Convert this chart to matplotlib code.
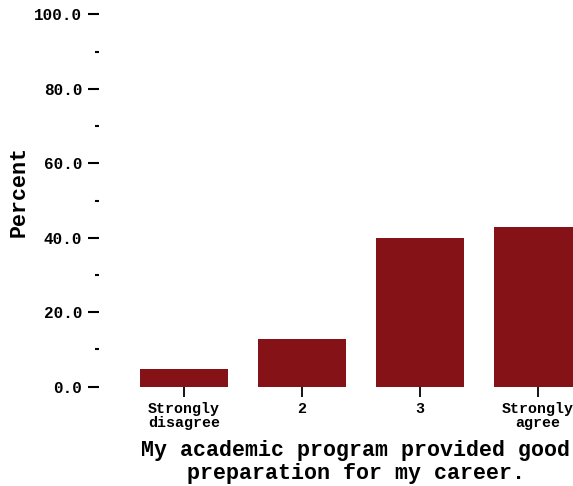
import matplotlib
matplotlib.use("Agg")
import matplotlib.pyplot as plt
from matplotlib.ticker import MultipleLocator, FormatStrFormatter

categories = ["Strongly\ndisagree", "2", "3", "Strongly\nagree"]
percent = [4.8, 12.8, 39.9, 43.0]

BAR_COLOR = "#851216"
FONT = "Liberation Mono"

fig = plt.figure(figsize=(5.73, 4.86), dpi=100)
# axes extends past the right edge of the figure, like the reference
ax = fig.add_axes([125 / 573, 99.3 / 486, 472 / 573, 372.4 / 486])

x = range(len(categories))
ax.bar(x, percent, width=0.754, color=BAR_COLOR)

ax.set_xlim(-0.5, 3.5)
ax.set_ylim(0, 100)

for s in ax.spines.values():
    s.set_visible(False)
ax.spines["left"].set_position(("outward", 18.7))

ax.yaxis.set_major_locator(MultipleLocator(20))
ax.yaxis.set_minor_locator(MultipleLocator(10))
ax.yaxis.set_major_formatter(FormatStrFormatter("%.1f"))
ax.tick_params(axis="y", which="major", length=8, width=1.5, pad=4)
ax.tick_params(axis="y", which="minor", length=3, width=1.5)
ax.set_xticks(list(x))
ax.set_xticklabels(categories, linespacing=1.0)
ax.tick_params(axis="x", length=7, width=1.3, pad=4)

for lab in ax.get_yticklabels():
    lab.set_fontfamily(FONT)
    lab.set_fontweight("bold")
    lab.set_fontsize(11.5)
for lab in ax.get_xticklabels():
    lab.set_fontfamily(FONT)
    lab.set_fontweight("bold")
    lab.set_fontsize(10.8)

ax.set_ylabel("Percent", fontfamily=FONT, fontweight="bold", fontsize=15.6)
ax.yaxis.set_label_coords(-0.225, 0.523)
ax.yaxis.label.set_va("center")

ax.set_xlabel("My academic program provided good\npreparation for my career.",
              fontfamily=FONT, fontweight="bold", fontsize=15.6, linespacing=1.1)
ax.xaxis.set_label_coords(0.489, -0.202)
ax.xaxis.label.set_va("center")

fig.savefig("out.png", dpi=100)
